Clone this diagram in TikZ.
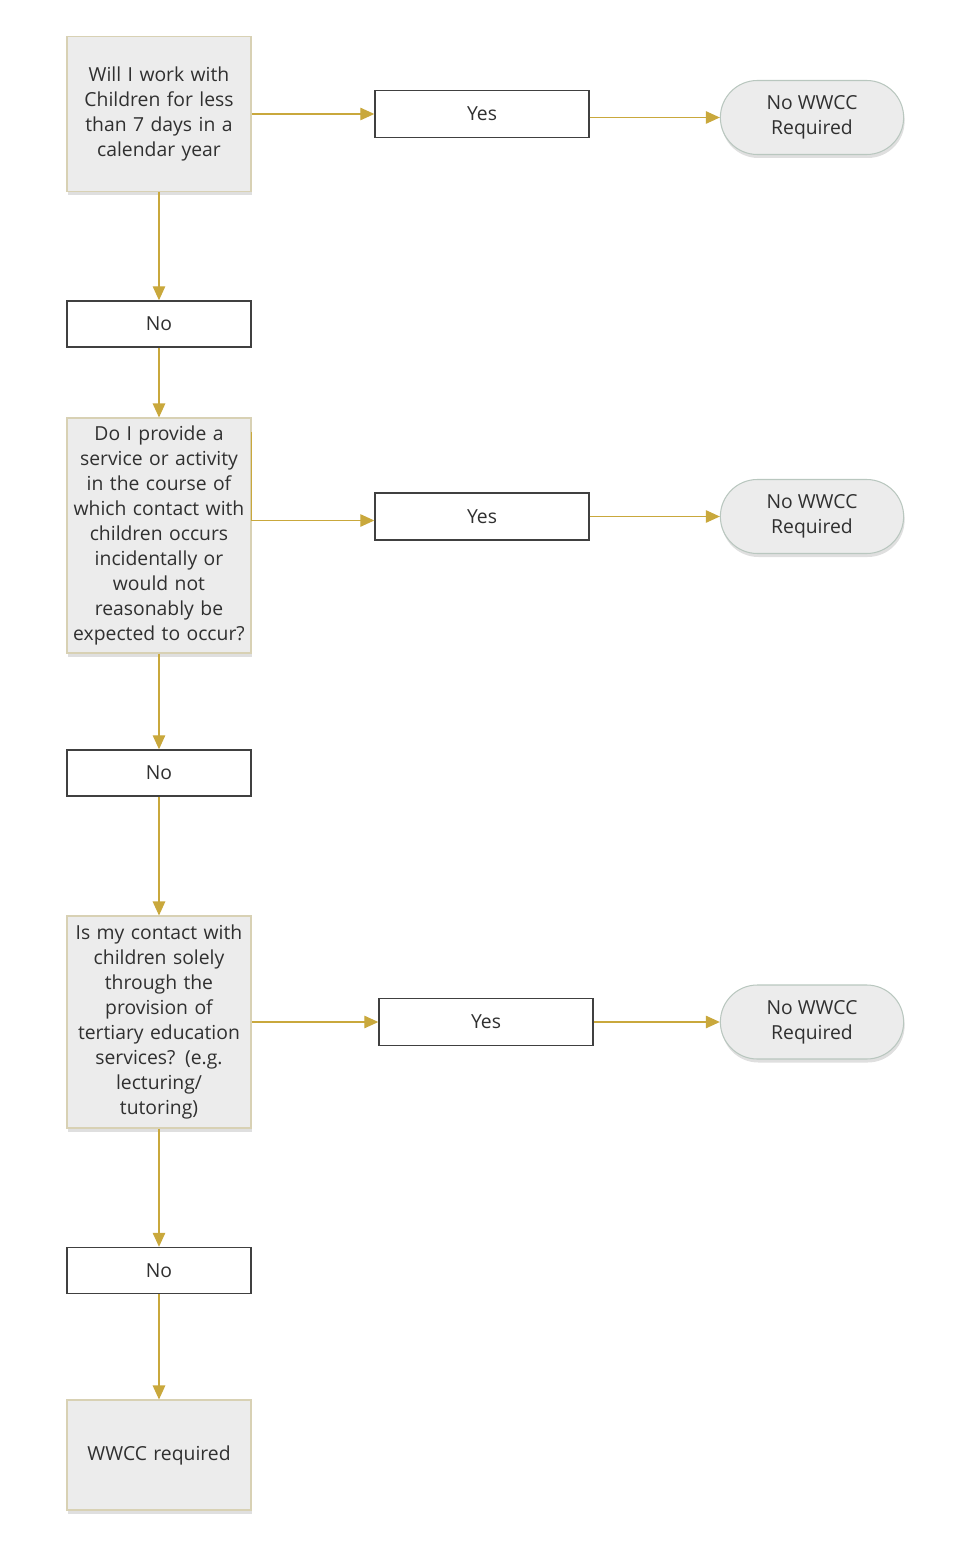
\documentclass[tikz,border=0pt]{standalone}
\usepackage{fontspec}
\setmainfont{Open Sans}
\usetikzlibrary{arrows.meta,shapes,shadows,positioning,calc}
\definecolor{boxfill}{HTML}{ECECEC}
\definecolor{boxline}{HTML}{D8D1B4}
\definecolor{endline}{HTML}{B9C7BF}
\definecolor{flow}{HTML}{C9A83C}
\definecolor{ink}{HTML}{303030}

\begin{document}
\begin{tikzpicture} [node distance=4.2cm, font=\fontsize{11}{14.2}\selectfont, text=ink,
  question/.style={rectangle, draw=boxline, fill=boxfill, line width=0.6pt, inner xsep=0.1cm, minimum width=3.68cm, text width=3.48cm, align=center, drop shadow={shadow xshift=0.02cm, shadow yshift=-0.07cm, opacity=0.25}},
  answer/.style={rectangle, draw=black!75, fill=white, line width=0.8pt, minimum width=4.28cm, minimum height=0.94cm},
  noanswer/.style={answer, minimum width=3.68cm, minimum height=0.92cm},
  terminal/.style={rounded rectangle, draw=endline, fill=boxfill, line width=0.6pt, minimum width=3.9cm, minimum height=1.48cm, align=center, drop shadow={shadow xshift=0.02cm, shadow yshift=-0.07cm, opacity=0.25}},
  flowline/.style={draw=flow, line width=0.7pt, -{Triangle[length=0.28cm, width=0.25cm, fill=flow]}}]
\useasboundingbox (0,0) rectangle (19.4,-30.84);

% first question
\node[question, minimum height=3.1cm] (Q1) at (3.18,-2.28) {Will I work with\\Children for less\\than 7 days in a\\calendar year};
\node[answer, right of=Q1, node distance=6.46cm] (Yes1) {Yes};
\node[terminal, right of=Yes1, node distance=6.6cm, yshift=-0.07cm] (End1) {No WWCC\\Required};
\node[noanswer, below of=Q1] (No1) {No};

% second question
\node[question, minimum height=4.7cm, below of=No1, node distance=4.23cm] (Q2) {Do I provide a\\service or activity\\in the course of\\which contact with\\children occurs\\incidentally or\\would not\\reasonably be\\expected to occur?};
\node[answer, right of=Q2, node distance=6.46cm, yshift=0.38cm] (Yes2) {Yes};
\node[terminal, right of=Yes2, node distance=6.6cm] (End2) {No WWCC\\Required};
\node[noanswer, below of=Q2, node distance=4.75cm] (No2) {No};
\coordinate (Q2out) at ($(Q2.north east)+(0,-0.3)$);

% third question
\node[question, minimum height=4.24cm, below of=No2, node distance=4.98cm] (Q3) {Is my contact with\\children solely\\through the\\provision of\\tertiary education\\services? (e.g.\\lecturing/\\tutoring)};
\node[answer, right of=Q3, node distance=6.54cm] (Yes3) {Yes};
\node[terminal, right of=Yes3, node distance=6.52cm] (End3) {No WWCC\\Required};
\node[noanswer, below of=Q3, node distance=4.97cm] (No3) {No};
\node[question, minimum height=2.2cm, below of=No3, node distance=3.69cm] (Final) {WWCC required};

\path[flowline] (Q1.east |- Yes1.west) -- (Yes1.west);
\path[flowline] (Yes1.east |- End1.west) -- (End1.west);
\path[flowline] (Q1) -- (No1);
\path[flowline] (No1) -- (Q2);
\path[flowline] (Q2out) |- ($(Yes2.west)+(0,-0.08)$);
\path[flowline] (Yes2.east) -- (End2.west);
\path[flowline] (Q2) -- (No2);
\path[flowline] (No2) -- (Q3);
\path[flowline] (Q3) -- (Yes3);
\path[flowline] (Yes3) -- (End3);
\path[flowline] (Q3) -- (No3);
\path[flowline] (No3) -- (Final);
\end{tikzpicture}
\end{document}
